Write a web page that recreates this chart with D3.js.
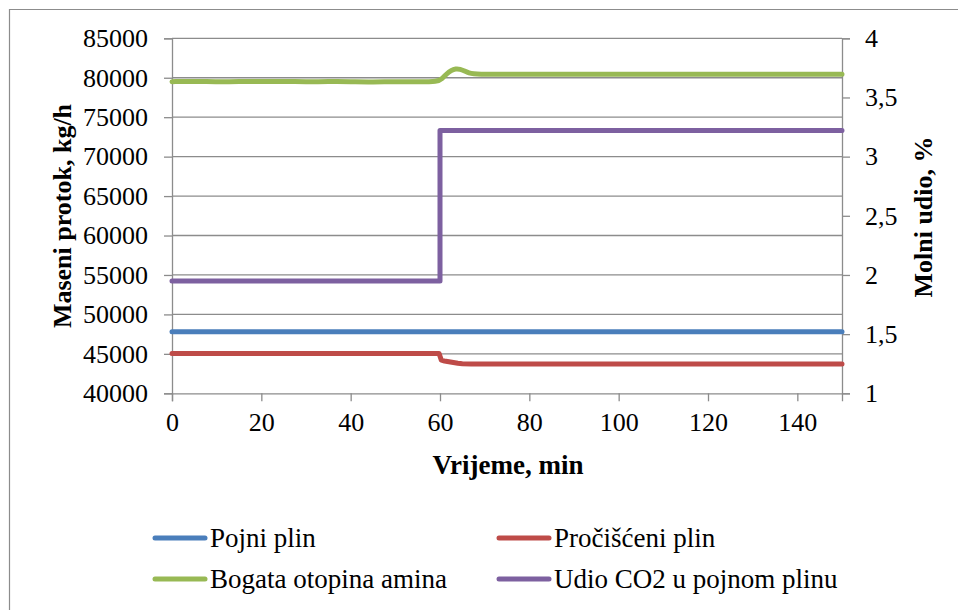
<!DOCTYPE html>
<html><head><meta charset="utf-8">
<script src="https://cdn.jsdelivr.net/npm/d3@7"></script>
<style>body{margin:0;background:#fff}svg{display:block}</style>
</head><body>
<svg id="c" width="958" height="610"></svg>
<script>
const xTicks=[0,20,40,60,80,100,120,140];
const yLeftTicks=[40000,45000,50000,55000,60000,65000,70000,75000,80000,85000];
const yRightTicks=[1,1.5,2,2.5,3,3.5,4];
const seriesNames=["Pojni plin","Pročišćeni plin","Bogata otopina amina","Udio CO2 u pojnom plinu"];
const seriesColors=["#4a7ebb","#be4b48","#98b954","#7d60a0"];
const pojniT=[0,150];
const pojniV=[47800,47800];
const procisceniT=[0,59.8,60,60.3,61,62,63,64,65,67,70,80,150];
const procisceniV=[45050,45050,44700,44200,44100,44000,43900,43800,43750,43710,43700,43700,43700];
const bogataT=[0,5,10,15,20,25,30,35,40,45,50,55,59.5,60.5,61.5,62.5,63.5,64.5,65.5,66.5,67.5,69,72,80,150];
const bogataV=[79500,79550,79480,79520,79500,79540,79480,79520,79500,79450,79520,79480,79500,79900,80500,80950,81150,81100,80850,80600,80500,80450,80450,80450,80450];
const udioT=[0,60,60,150];
const udioV=[1.95,1.95,3.22,3.22];

const FONT="Liberation Serif";
const FS=26;
const svg=d3.select("#c").attr("font-family",FONT);
const L=172,R=842,T=38.3,B=393.3;
const x=d3.scaleLinear().domain([0,150]).range([L,R]);
const yL=d3.scaleLinear().domain([40000,85000]).range([B,T]);
const yR=d3.scaleLinear().domain([1,4]).range([B,T]);
const grid="#8c8c8c";

svg.append("path").attr("d",`M9.5,620V9.5H970`).attr("fill","none").attr("stroke","#8c8c8c").attr("stroke-width",1.2);

svg.append("g").selectAll("line").data(yLeftTicks.slice(1)).join("line")
  .attr("x1",L).attr("x2",R).attr("y1",d=>yL(d)).attr("y2",d=>yL(d))
  .attr("stroke",grid).attr("stroke-width",1.3);

const axL=svg.append("g").attr("transform",`translate(${L},0)`).call(d3.axisLeft(yL).tickValues(yLeftTicks).tickSize(8).tickPadding(16).tickFormat(d3.format("d")));
const axR=svg.append("g").attr("transform",`translate(${R},0)`).call(d3.axisRight(yR).tickValues(yRightTicks).tickSize(8).tickPadding(15).tickFormat(d=>String(d).replace(".",",")));
const axB=svg.append("g").attr("transform",`translate(0,${B})`).call(d3.axisBottom(x).tickValues(xTicks).tickSize(8).tickPadding(11));
[axL,axR,axB].forEach(a=>{
  a.attr("font-family",FONT).attr("font-size",FS);
  a.select(".domain").attr("stroke",grid).attr("stroke-width",1.3);
  a.selectAll(".tick line").attr("stroke",grid).attr("stroke-width",1.3);
  a.selectAll("text").attr("fill","#000");
});

const lineFn=d3.line().x(d=>x(d[0])).y(d=>yL(d[1]));
const lineStep=d3.line().x(d=>x(d[0])).y(d=>yR(d[1]));
const g=svg.append("g").attr("fill","none").attr("stroke-width",5).attr("stroke-linejoin","round").attr("stroke-linecap","round");
g.append("path").datum(d3.zip(pojniT,pojniV)).attr("d",lineFn).attr("stroke",seriesColors[0]);
g.append("path").datum(d3.zip(procisceniT,procisceniV)).attr("d",lineFn).attr("stroke",seriesColors[1]);
g.append("path").datum(d3.zip(bogataT,bogataV)).attr("d",d3.line().x(d=>x(d[0])).y(d=>yL(d[1])).curve(d3.curveBasis)).attr("stroke",seriesColors[2]);
g.append("path").datum(d3.zip(udioT,udioV)).attr("d",lineStep).attr("stroke",seriesColors[3]);

svg.append("text").attr("transform","translate(62,216) rotate(-90)").attr("text-anchor","middle").attr("dy","0.35em")
  .attr("font-weight","bold").attr("font-size",FS).text("Maseni protok, kg/h");
svg.append("text").attr("transform","translate(923,217) rotate(-90)").attr("text-anchor","middle").attr("dy","0.35em")
  .attr("font-weight","bold").attr("font-size",FS).text("Molni udio, %");
svg.append("text").attr("x",(L+R)/2+1).attr("y",474).attr("text-anchor","middle")
  .attr("font-weight","bold").attr("font-size",27).text("Vrijeme, min");

const legPos=[[153,538],[497,538],[153,579],[497,579]];
const lg=svg.append("g").selectAll("g").data(seriesNames).join("g").attr("transform",(d,i)=>`translate(${legPos[i][0]},${legPos[i][1]})`);
lg.append("line").attr("x1",2).attr("x2",52).attr("stroke",(d,i)=>seriesColors[i]).attr("stroke-width",5).attr("stroke-linecap","round");
lg.append("text").attr("x",57).attr("dy","0.33em").attr("font-size",27).text(d=>d);
</script>
</body></html>
